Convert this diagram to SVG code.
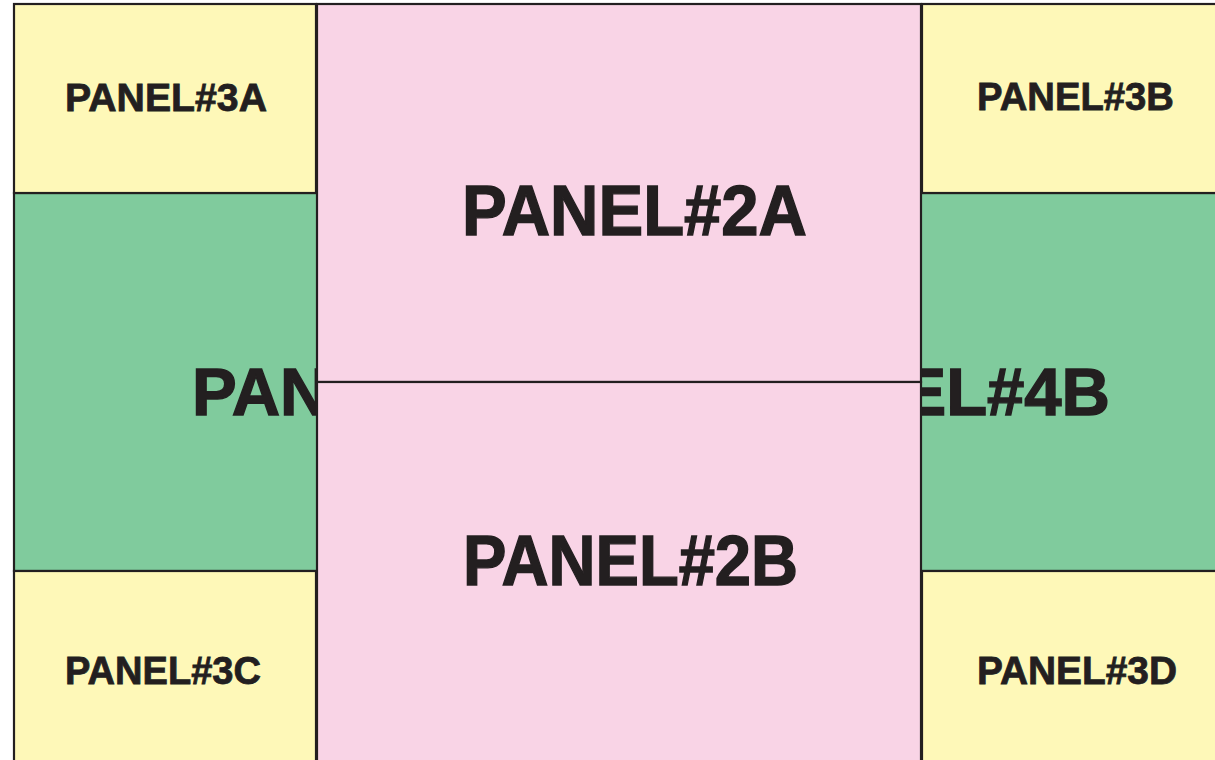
<svg xmlns="http://www.w3.org/2000/svg" width="1215" height="760" viewBox="0 0 1215 760">
<style>
.ln{stroke:#231f20;stroke-width:2.2}
.y{fill:#fef8b8}
.g{fill:#80cb9d}
.p{fill:#f9d4e6}
.t{font-family:"Liberation Sans",Arial,sans-serif;font-weight:bold;fill:#231f20;stroke:#231f20}
.s{font-size:39px;stroke-width:0.8}
.b{font-size:70px;stroke-width:1.4}
.m{font-size:67px;stroke-width:1.4}
</style>
<rect width="1215" height="760" fill="#ffffff"/>
<g id="panel4A">
<rect class="g ln" x="14" y="193" width="604" height="378"/>
<text class="t m" x="192" y="415">PANEL#4A</text>
</g>
<g id="panel4B">
<rect class="g ln" x="618" y="193" width="610" height="378"/>
<text class="t m" x="1110" y="415" text-anchor="end">PANEL#4B</text>
</g>
<g id="panel3A">
<rect class="y ln" x="14" y="4" width="302" height="189"/>
<text class="t s" x="65" y="111" textLength="202" lengthAdjust="spacingAndGlyphs">PANEL#3A</text>
</g>
<g id="panel3B">
<rect class="y ln" x="922" y="4" width="306" height="189"/>
<text class="t s" x="977" y="110" textLength="197" lengthAdjust="spacingAndGlyphs">PANEL#3B</text>
</g>
<g id="panel3C">
<rect class="y ln" x="14" y="571" width="302" height="195"/>
<text class="t s" x="65" y="684" textLength="196" lengthAdjust="spacingAndGlyphs">PANEL#3C</text>
</g>
<g id="panel3D">
<rect class="y ln" x="922" y="571" width="306" height="195"/>
<text class="t s" x="977" y="684" textLength="200" lengthAdjust="spacingAndGlyphs">PANEL#3D</text>
</g>
<g id="panel2A">
<rect class="p ln" x="317" y="4" width="604" height="378"/>
<text class="t b" x="462" y="235" textLength="345" lengthAdjust="spacingAndGlyphs">PANEL#2A</text>
</g>
<g id="panel2B">
<rect class="p ln" x="317" y="382" width="604" height="384"/>
<text class="t b" x="463" y="585" textLength="335" lengthAdjust="spacingAndGlyphs">PANEL#2B</text>
</g>
<g id="connectors"></g>
</svg>
